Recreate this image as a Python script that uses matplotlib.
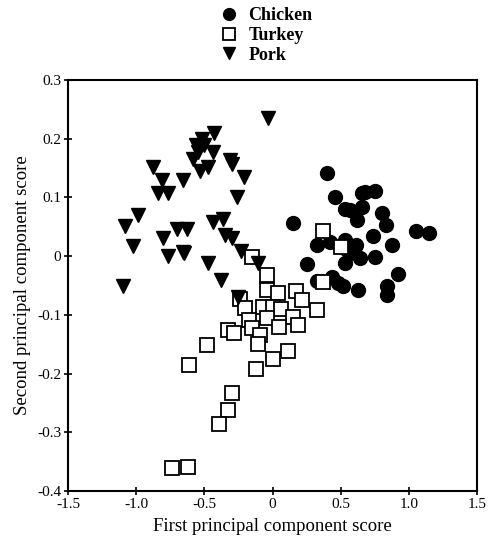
import numpy as np
import matplotlib
matplotlib.use('Agg')
import matplotlib.pyplot as plt

plt.rcParams['font.family'] = ['Liberation Serif', 'DejaVu Serif']

# principal component scores
chicken_x = [0.40, 0.46, 0.68, 0.75, 0.66, 0.53, 0.57, 0.66, 0.80, 0.62, 0.83, 0.15,
             1.05, 1.15, 0.74, 0.33, 0.42, 0.53, 0.61, 0.88, 0.57, 0.64, 0.75, 0.25,
             0.53, 0.92, 0.33, 0.44, 0.48, 0.52, 0.63, 0.84, 0.84, 0.55]
chicken_y = [0.141, 0.100, 0.109, 0.111, 0.107, 0.080, 0.078, 0.083, 0.073, 0.061, 0.053, 0.056,
             0.043, 0.039, 0.034, 0.019, 0.024, 0.027, 0.019, 0.019, 0.005, -0.003, -0.002, -0.014,
             -0.012, -0.031, -0.043, -0.036, -0.046, -0.051, -0.058, -0.051, -0.066, 0.010]

turkey_x = [-0.15, -0.04, -0.04, 0.04, 0.17, 0.22, 0.33, -0.24, -0.20, -0.07, 0.00, 0.06,
            -0.17, -0.04, 0.15, 0.19, 0.05, -0.33, -0.28, -0.15, -0.09, -0.11, 0.11, -0.48,
            0.00, -0.61, -0.12, -0.30, -0.33, -0.39, -0.74, -0.62, 0.37, 0.50, 0.37]
turkey_y = [-0.002, -0.032, -0.058, -0.063, -0.060, -0.075, -0.092, -0.073, -0.089, -0.087, -0.087, -0.090,
            -0.109, -0.106, -0.104, -0.118, -0.121, -0.126, -0.131, -0.123, -0.135, -0.150, -0.162, -0.152,
            -0.175, -0.186, -0.193, -0.233, -0.262, -0.286, -0.361, -0.359, 0.043, 0.015, -0.044]

pork_x = [-0.43, -0.52, -0.56, -0.50, -0.44, -0.55, -0.58, -0.31, -0.30, -0.88, -0.47, -0.53,
          -0.21, -0.66, -0.81, -0.84, -0.77, -0.26, -0.99, -1.08, -0.44, -0.36, -0.70, -0.63,
          -0.35, -0.30, -0.80, -1.02, -0.66, -0.65, -0.77, -0.23, -0.47, -0.11, -0.38, -1.10,
          -0.25, -0.03]
pork_y = [0.210, 0.200, 0.190, 0.190, 0.177, 0.177, 0.165, 0.164, 0.157, 0.152, 0.152, 0.145,
          0.135, 0.129, 0.129, 0.107, 0.107, 0.100, 0.070, 0.051, 0.058, 0.063, 0.046, 0.046,
          0.036, 0.031, 0.031, 0.017, 0.007, 0.005, 0.000, 0.009, -0.012, -0.012, -0.041, -0.051,
          -0.070, 0.235]

fig = plt.figure(figsize=(4.91, 5.40), dpi=100)
ax = fig.add_axes([0.1385, 0.0907, 0.8330, 0.7613])

ax.plot(chicken_x, chicken_y, 'o', ms=10, mfc='black', mec='black', ls='none', label='Chicken')
ax.plot(turkey_x, turkey_y, 's', ms=9.5, mfc='white', mec='black', mew=1.3, ls='none', label='Turkey')
ax.plot(pork_x, pork_y, 'v', ms=10, mfc='black', mec='black', ls='none', label='Pork')

ax.set_xlim(-1.5, 1.5)
ax.set_ylim(-0.4, 0.3)
ax.set_xticks([-1.5, -1.0, -0.5, 0, 0.5, 1.0, 1.5])
ax.set_xticklabels(['-1.5', '-1.0', '-0.5', '0', '0.5', '1.0', '1.5'])
ax.set_yticks([-0.4, -0.3, -0.2, -0.1, 0, 0.1, 0.2, 0.3])
ax.set_yticklabels(['-0.4', '-0.3', '-0.2', '-0.1', '0', '0.1', '0.2', '0.3'])
ax.tick_params(direction='inout', length=6, width=1.2, labelsize=11, pad=2)
for s in ax.spines.values():
    s.set_linewidth(1.5)

ax.set_xlabel('First principal component score', fontsize=13.5, labelpad=5)
ax.set_ylabel('Second principal component score', fontsize=13.5, labelpad=4)

fig.legend(loc='upper center', bbox_to_anchor=(0.54, 1.01), frameon=False,
           markerscale=0.85, handlelength=1.2, handletextpad=0.5,
           labelspacing=0.15, borderpad=0.2,
           prop={'weight': 'bold', 'size': 13})

fig.savefig('out.png', dpi=100)
